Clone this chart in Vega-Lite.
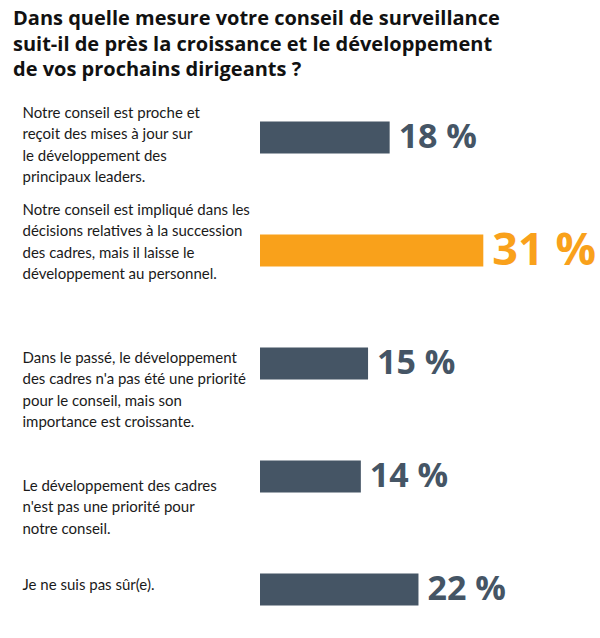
{
  "$schema": "https://vega.github.io/schema/vega-lite/v6.json",
  "autosize": "none",
  "width": 340,
  "height": 557,
  "padding": {"left": 260, "top": 81, "right": 0, "bottom": 0},
  "title": {
    "text": [
      "Dans quelle mesure votre conseil de surveillance",
      "suit-il de près la croissance et le développement",
      "de vos prochains dirigeants ?"
    ],
    "anchor": "start",
    "frame": "group",
    "dx": -247,
    "dy": 3,
    "font": "Open Sans",
    "fontSize": 20,
    "fontWeight": "bold",
    "color": "#111111",
    "lineHeight": 25.5
  },
  "data": {
    "values": [
      {"reponse": "Notre conseil est proche et|reçoit des mises à jour sur|le développement des|principaux leaders.", "pct": 18},
      {"reponse": "Notre conseil est impliqué dans les|décisions relatives à la succession|des cadres, mais il laisse le|développement au personnel.", "pct": 31},
      {"reponse": "Dans le passé, le développement|des cadres n'a pas été une priorité|pour le conseil, mais son|importance est croissante.", "pct": 15},
      {"reponse": "Le développement des cadres|n'est pas une priorité pour|notre conseil.", "pct": 14},
      {"reponse": "Je ne suis pas sûr(e).", "pct": 22}
    ]
  },
  "transform": [
    {"calculate": "datum.pct + ' %'", "as": "lbl"}
  ],
  "encoding": {
    "y": {
      "field": "reponse",
      "type": "nominal",
      "sort": null,
      "scale": {"type": "band", "paddingInner": 0, "paddingOuter": 0, "range": [0, 565]},
      "axis": {
        "title": null,
        "domain": false,
        "ticks": false,
        "tickSize": 0,
        "labelAlign": "left",
        "labelBaseline": "middle",
        "labelPadding": 238,
        "labelFont": "Lato",
        "labelFontSize": 15,
        "labelColor": "#1a1a1a",
        "labelLimit": 300,
        "labelLineHeight": 21.5,
        "labelExpr": "split(datum.label, '|')",
        "labelOffset": {
          "condition": [
            {"test": "indexof(datum.value, 'Notre conseil est proche') == 0", "value": -24.75},
            {"test": "indexof(datum.value, 'Notre conseil est impliqué') == 0", "value": -40.75},
            {"test": "indexof(datum.value, 'Dans le passé') == 0", "value": -5.75},
            {"test": "indexof(datum.value, 'Le développement') == 0", "value": 9}
          ],
          "value": -4.5
        }
      }
    },
    "x": {
      "field": "pct",
      "type": "quantitative",
      "scale": {"domain": [0, 47.2], "nice": false, "zero": true},
      "axis": null
    }
  },
  "layer": [
    {
      "mark": {"type": "bar", "height": 32},
      "encoding": {
        "color": {
          "condition": {"test": "datum.pct == 31", "value": "#F9A11B"},
          "value": "#455565"
        }
      }
    },
    {
      "mark": {
        "type": "text",
        "align": "left",
        "baseline": "middle",
        "dx": 9,
        "font": "Open Sans",
        "fontWeight": "bold"
      },
      "encoding": {
        "text": {"field": "lbl"},
        "size": {
          "condition": {"test": "datum.pct == 31", "value": 45},
          "value": 34
        },
        "color": {
          "condition": {"test": "datum.pct == 31", "value": "#F9A11B"},
          "value": "#455565"
        }
      }
    }
  ],
  "config": {
    "view": {"stroke": null},
    "background": "white"
  }
}
